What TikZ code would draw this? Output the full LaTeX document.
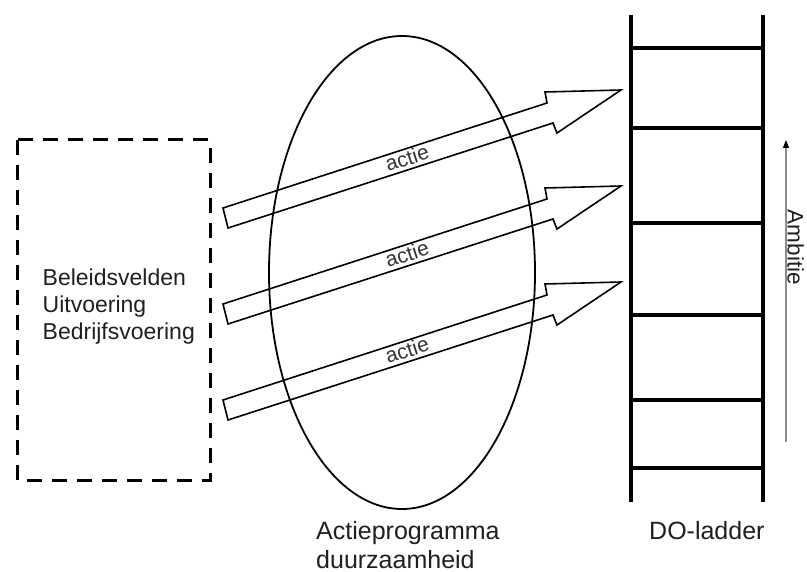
\documentclass[tikz,border=0pt]{standalone}
\usepackage{fontspec}
\setmainfont{Liberation Sans}
\usetikzlibrary{arrows.meta}
\begin{document}
\begin{tikzpicture}[x=1pt,y=-1pt,
  lbl/.style={inner sep=0pt,text=black!88,font=\fontsize{25}{29}\selectfont},
  leftlbl/.style={inner sep=0pt,text=black!88,font=\fontsize{23}{27}\selectfont,anchor=base west},
  actielbl/.style={inner sep=0pt,text=black!80,font=\fontsize{21}{24}\selectfont,rotate=18},
  blockarrow/.style={draw=black,line width=1.6pt,line join=miter},
  rail/.style={line width=4pt},
  rung/.style={line width=3.6pt},
  dashbox/.style={draw=black,line width=3pt,dash pattern=on 15pt off 10pt}]
\useasboundingbox (0,0) rectangle (807,572);
% dashed box
\draw[dashbox] (17,140) rectangle (210,480);
\node[leftlbl] (bv) at (42.5,286) {Beleidsvelden};
\node[leftlbl] (uv) at (42.5,313) {Uitvoering};
\node[leftlbl] (bf) at (42.5,340) {Bedrijfsvoering};
% ellipse
\draw[line width=1.8pt] (402,272.5) ellipse [x radius=133, y radius=236.5];
\node[lbl,anchor=base west] (ap1) at (316,539) {Actieprogramma};
\node[lbl,anchor=base west] (ap2) at (316,568) {duurzaamheid};
% block arrows
\foreach \i/\dy in {1/0,2/96,3/192}{
  \draw[blockarrow,shift={(0,\dy)}] (223,208) -- (547,103) -- (545,92) -- (621,90)
     -- (557,133) -- (553,123) -- (228,228) -- cycle;
  \path[shift={(0,\dy)}] (407,158) node[actielbl] (actie\i) {actie};
}
% ladder
\coordinate (lt) at (631,15); \coordinate (lb) at (631,502);
\coordinate (rt) at (763,15); \coordinate (rb) at (763,502);
\draw[rail] (lt) -- (lb);
\draw[rail] (rt) -- (rb);
\foreach \y in {48,128,223,315,400,468}{
  \draw[rung] (631,\y) -- (763,\y);
}
\node[lbl,anchor=base west] (do) at (649,539) {DO-ladder};
% ambitie
\coordinate (amb0) at (786,442);
\coordinate (amb1) at (786,140);
\draw[draw=black!45,line width=1.3pt,-{Triangle[length=8pt,width=6pt,color=black]}] (amb0) -- (amb1);
\node[inner sep=0pt,text=black!88,font=\fontsize{22.5}{26}\selectfont,rotate=-90,anchor=base] (amb) at (787.5,247.5) {Ambitie};
\end{tikzpicture}
\end{document}
